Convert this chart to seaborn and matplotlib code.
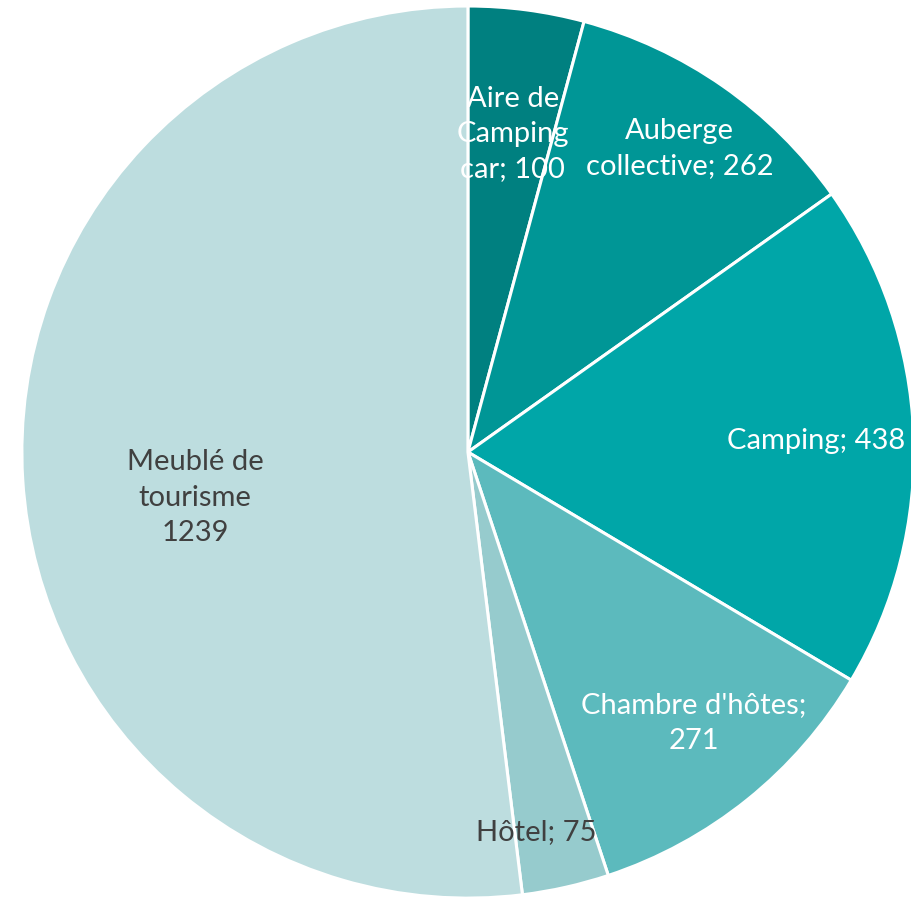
import matplotlib.pyplot as plt
import seaborn as sns
import numpy as np

# Hébergements par type
categories = ['Aire de Camping car', 'Auberge collective', 'Camping', "Chambre d'hôtes", 'Hôtel', 'Meublé de tourisme']
values = [100, 262, 438, 271, 75, 1239]
label_texts = ['Aire de\nCamping\ncar; 100', 'Auberge\ncollective; 262', 'Camping; 438',
               "Chambre d'hôtes;\n271", 'Hôtel; 75', 'Meublé de\ntourisme\n1239']
colors = ['#008080', '#009696', '#00A6A8', '#5CBABD', '#96CBCD', '#BDDDDF']
text_colors = ['white', 'white', 'white', 'white', '#404040', '#404040']
label_radius = [0.72, 0.83, 0.78, 0.79, 0.865, 0.62]
label_shift = [0.5, 0, 0.5, -1, 2.5, -6]  # degrees, clockwise

sns.set_style('white')
plt.rcParams['font.family'] = ['Lato', 'DejaVu Sans']

fig = plt.figure(figsize=(9.12, 8.99), dpi=100)
ax = fig.add_axes([0, 0, 1, 1])

wedges, _ = ax.pie(values, colors=colors, startangle=90, counterclock=False,
                   wedgeprops=dict(edgecolor='white', linewidth=2.2))

for w, txt, tc, r, s in zip(wedges, label_texts, text_colors, label_radius, label_shift):
    ang = np.deg2rad((w.theta1 + w.theta2) / 2 - s)
    ax.text(r * np.cos(ang), r * np.sin(ang), txt, ha='center', va='center',
            fontsize=21, color=tc, linespacing=1.45)

ax.set_xlim(-1.049, 0.9955)
ax.set_ylim(-1.002, 1.0135)
ax.set_aspect('equal')
ax.axis('off')

fig.savefig('out.png', dpi=100)
